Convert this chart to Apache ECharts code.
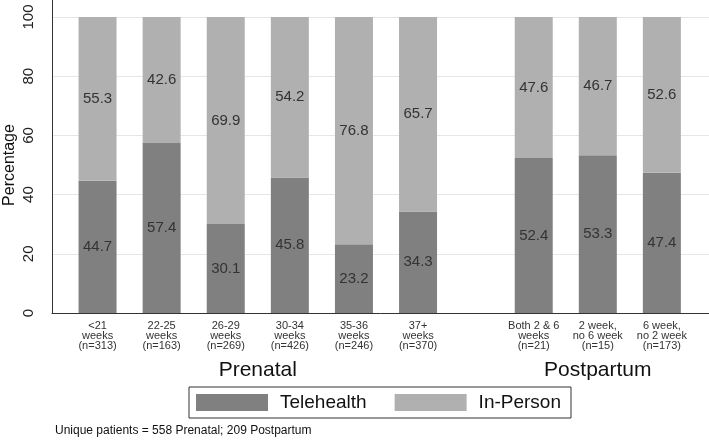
<!DOCTYPE html>
<html>
<head>
<meta charset="utf-8">
<script src="https://cdn.jsdelivr.net/npm/echarts@6/dist/echarts.min.js"></script>
<style>
  html, body { margin: 0; padding: 0; background: #fff; }
  #main { width: 709px; height: 440px; }
</style>
</head>
<body>
<div id="main"></div>
<script>
// data
var prenatalCats = ['<21\nweeks\n(n=313)', '22-25\nweeks\n(n=163)', '26-29\nweeks\n(n=269)',
  '30-34\nweeks\n(n=426)', '35-36\nweeks\n(n=246)', '37+\nweeks\n(n=370)'];
var prenatalTele = [44.7, 57.4, 30.1, 45.8, 23.2, 34.3];
var prenatalInPerson = [55.3, 42.6, 69.9, 54.2, 76.8, 65.7];

var postCats = ['Both 2 & 6\nweeks\n(n=21)', '2 week,\nno 6 week\n(n=15)', '6 week,\nno 2 week\n(n=173)'];
var postTele = [52.4, 53.3, 47.4];
var postInPerson = [47.6, 46.7, 52.6];

var yTicks = [0, 20, 40, 60, 80, 100];
var seriesNames = ['Telehealth', 'In-Person'];

var teleColor = '#808080';
var inPersonColor = '#b0b0b0';
var font = 'Liberation Sans, Arial, sans-serif';

var myChart = echarts.init(document.getElementById('main'));

var barLabel = {
  show: true,
  position: 'inside',
  fontFamily: font,
  fontSize: 15,
  color: '#333'
};

function bars(name, data, color, xi, stack) {
  return {
    name: name,
    type: 'bar',
    stack: stack,
    xAxisIndex: xi,
    yAxisIndex: xi,
    barWidth: 38,
    data: data,
    itemStyle: { color: color },
    label: barLabel,
    emphasis: { disabled: true }
  };
}

var catAxis = function (cats, name, gi) {
  return {
    type: 'category',
    gridIndex: gi,
    data: cats,
    axisLine: { show: false },
    axisTick: { show: false },
    axisLabel: {
      fontFamily: font,
      fontSize: 11,
      lineHeight: 10,
      color: '#333',
      margin: 8,
      interval: 0
    },
    name: name,
    nameLocation: 'middle',
    nameGap: 47,
    nameTextStyle: { fontFamily: font, fontSize: 21, color: '#111' }
  };
};

var hiddenY = function (gi) {
  return {
    type: 'value', gridIndex: gi, min: 0, max: 100,
    show: false, splitLine: { show: false }
  };
};

var option = {
  animation: false,
  grid: [
    // prenatal bars
    { left: 65.5, top: 17, bottom: 127, width: 384.6, outerBoundsMode: 'none' },
    // postpartum bars
    { left: 501.7, top: 17, bottom: 127, width: 192.2, outerBoundsMode: 'none' },
    // frame: gridlines, tick labels, x axis line
    { left: 52, right: 0, top: 17, bottom: 127, outerBoundsMode: 'none' },
    // y axis line up to the top edge
    { left: 52, right: 0, top: 0, bottom: 127, outerBoundsMode: 'none' }
  ],
  xAxis: [
    catAxis(prenatalCats, 'Prenatal', 0),
    catAxis(postCats, 'Postpartum', 1),
    {
      type: 'value', gridIndex: 2, min: 0, max: 1,
      axisLine: { show: true, lineStyle: { color: '#333', width: 1 } },
      axisTick: { show: false }, axisLabel: { show: false },
      splitLine: { show: false }
    },
    {
      type: 'value', gridIndex: 3, min: 0, max: 1, show: false
    }
  ],
  yAxis: [
    hiddenY(0),
    hiddenY(1),
    {
      type: 'value', gridIndex: 2,
      min: yTicks[0], max: yTicks[yTicks.length - 1],
      interval: yTicks[1] - yTicks[0],
      axisLine: { show: false },
      axisTick: { show: false },
      axisLabel: {
        rotate: 90,
        fontFamily: font,
        fontSize: 15,
        color: '#222',
        margin: 16
      },
      splitLine: { show: true, lineStyle: { color: '#e6e6e6', width: 1 } },
      name: 'Percentage',
      nameLocation: 'middle',
      nameRotate: 90,
      nameGap: 34,
      nameMoveOverlap: false,
      nameTextStyle: { fontFamily: font, fontSize: 16, color: '#111' }
    },
    {
      type: 'value', gridIndex: 3, min: 0, max: 1,
      axisLine: { show: true, lineStyle: { color: '#333', width: 1 } },
      axisTick: { show: false }, axisLabel: { show: false },
      splitLine: { show: false }
    }
  ],
  legend: {
    data: seriesNames,
    left: 189,
    top: 387,
    orient: 'horizontal',
    itemWidth: 72,
    itemHeight: 17,
    itemGap: 28,
    padding: [6, 10, 6, 7],
    borderColor: '#333',
    borderWidth: 1,
    borderRadius: 0,
    icon: 'rect',
    selectedMode: false,
    textStyle: {
      fontFamily: font,
      fontSize: 19,
      color: '#111',
      padding: [0, 0, 0, 7]
    }
  },
  graphic: [
    {
      type: 'text',
      left: 55,
      top: 425,
      style: {
        text: 'Unique patients = 558 Prenatal; 209 Postpartum',
        fontFamily: font,
        fontSize: 12,
        fill: '#111'
      }
    }
  ],
  series: [
    bars(seriesNames[0], prenatalTele, teleColor, 0, 'pre'),
    bars(seriesNames[1], prenatalInPerson, inPersonColor, 0, 'pre'),
    bars(seriesNames[0], postTele, teleColor, 1, 'post'),
    bars(seriesNames[1], postInPerson, inPersonColor, 1, 'post')
  ]
};

myChart.setOption(option);
</script>
</body>
</html>
